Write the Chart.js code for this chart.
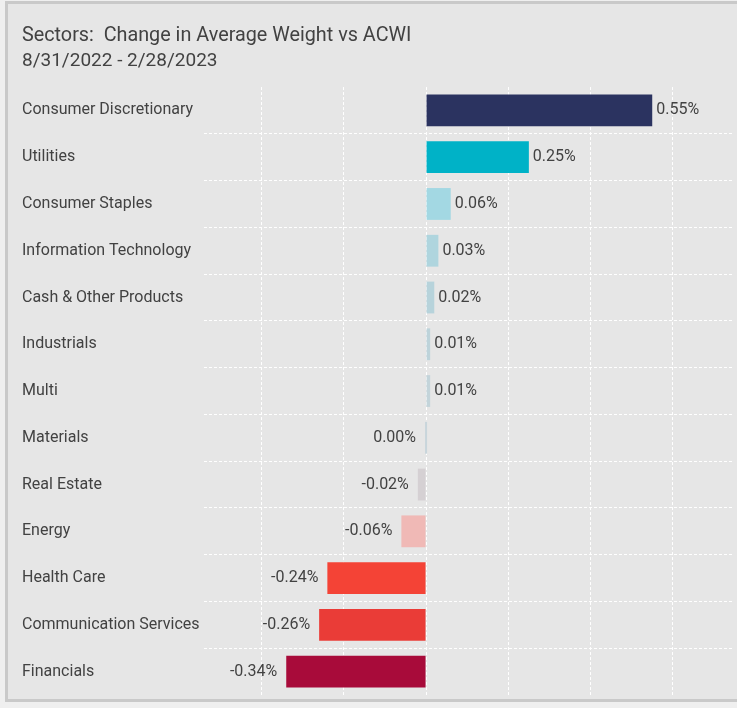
<!DOCTYPE html>
<html>
<head>
<meta charset="utf-8">
<script src="https://cdn.jsdelivr.net/npm/chart.js@4/dist/chart.umd.min.js"></script>
<style>
  html, body { margin: 0; padding: 0; background: #efefef; overflow: hidden; }
  #frame {
    position: absolute; left: 5px; top: 1px;
    width: 760px; height: 695px;
    border: 3px solid #c9c9c9;
    background: #e6e6e6;
  }
  #wrap { position: absolute; left: 0; top: 0; width: 729px; height: 695px; }
</style>
</head>
<body>
<div id="frame"><div id="wrap"><canvas id="chart"></canvas></div></div>
<script>
// data
const sectors = [
  'Consumer Discretionary', 'Utilities', 'Consumer Staples', 'Information Technology',
  'Cash & Other Products', 'Industrials', 'Multi', 'Materials', 'Real Estate',
  'Energy', 'Health Care', 'Communication Services', 'Financials'
];
const weightChange = [0.55, 0.25, 0.06, 0.03, 0.02, 0.01, 0.01, 0.00, -0.02, -0.06, -0.24, -0.26, -0.34];
const barColors = [
  '#2b3360', '#00b2c7', '#a3d8e3', '#afd5de', '#b7d3db', '#bdd3da', '#c3d4da',
  '#c8d5db', '#d5d0d3', '#f0b9b6', '#f44336', '#ea3c37', '#a80b3a'
];
const gridTicks = [-0.4, -0.2, 0, 0.2, 0.4, 0.6];

const FONT = 'Roboto, "Noto Sans", sans-serif';
const TEXT = '#424242';

// value labels at the end of each bar
const valueLabels = {
  id: 'valueLabels',
  afterDatasetsDraw(chart) {
    const ctx = chart.ctx;
    const meta = chart.getDatasetMeta(0);
    ctx.save();
    ctx.font = '16px ' + FONT;
    ctx.fillStyle = TEXT;
    ctx.textBaseline = 'middle';
    meta.data.forEach((bar, i) => {
      const v = weightChange[i];
      const txt = v.toFixed(2) + '%';
      if (v > 0) {
        ctx.textAlign = 'left';
        ctx.fillText(txt, bar.x + 4, bar.y);
      } else {
        ctx.textAlign = 'right';
        ctx.fillText(txt, bar.x - 9, bar.y);
      }
    });
    ctx.restore();
  }
};

new Chart(document.getElementById('chart'), {
  type: 'bar',
  data: {
    labels: sectors,
    datasets: [{
      data: weightChange,
      backgroundColor: barColors,
      borderWidth: 0,
      barPercentage: 0.68,
      categoryPercentage: 1,
      minBarLength: 2
    }]
  },
  options: {
    indexAxis: 'y',
    responsive: true,
    maintainAspectRatio: false,
    animation: false,
    layout: { padding: { left: 14, right: 5, top: 20, bottom: 4 } },
    plugins: {
      legend: { display: false },
      tooltip: { enabled: false },
      title: {
        display: true,
        text: 'Sectors:  Change in Average Weight vs ACWI',
        align: 'start',
        color: TEXT,
        font: { family: FONT, size: 19.8, weight: 'normal' },
        padding: { top: 0, bottom: 2 }
      },
      subtitle: {
        display: true,
        text: '8/31/2022 - 2/28/2023',
        align: 'start',
        color: TEXT,
        font: { family: FONT, size: 19, weight: 'normal' },
        padding: { top: 0, bottom: 14.5 }
      }
    },
    scales: {
      x: {
        min: -0.54,
        max: 0.744,
        afterBuildTicks(axis) { axis.ticks = gridTicks.map(v => ({ value: v })); },
        afterFit(axis) { axis.height = 0; axis.paddingLeft = 0; axis.paddingRight = 0; },
        ticks: { display: false },
        border: { display: false, dash: [3, 2] },
        grid: { color: '#ffffff', lineWidth: 1, drawTicks: false }
      },
      y: {
        afterFit(axis) { axis.width = 182; axis.paddingTop = 0; axis.paddingBottom = 0; },
        ticks: {
          crossAlign: 'far',
          color: TEXT,
          font: { family: FONT, size: 16 },
          padding: 0
        },
        border: { display: false, dash: [3, 2] },
        grid: {
          offset: true,
          drawTicks: false,
          // only the lines between categories, not the outer edges
          color: ctx => (ctx.type !== 'tick' || ctx.index === 0) ? 'rgba(0,0,0,0)' : '#ffffff',
          lineWidth: 1
        }
      }
    }
  },
  plugins: [valueLabels]
});
</script>
</body>
</html>
